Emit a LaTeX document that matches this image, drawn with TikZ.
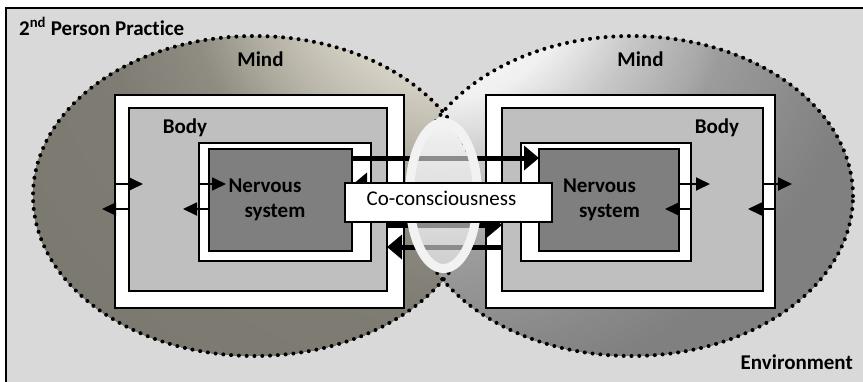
\documentclass[tikz,border=0pt]{standalone}
\usepackage{fontspec}
\setmainfont{Carlito}[Ligatures=NoCommon]
\usetikzlibrary{arrows.meta,calc}
\definecolor{envgray}{HTML}{D9D9D9}
\definecolor{bodygray}{HTML}{BFBFBF}
\definecolor{nervgray}{HTML}{7F7F7F}
\definecolor{ovalring}{HTML}{F2F2F2}
\definecolor{lmA}{HTML}{E8E5D8}
\definecolor{lmB}{HTML}{E0DDD0}
\definecolor{lmC}{HTML}{BCB9AC}
\definecolor{lmD}{HTML}{8F8C82}
\definecolor{lmE}{HTML}{7E7C73}
\definecolor{lmF}{HTML}{7A786F}
\definecolor{rmA}{HTML}{FFFFFF}
\definecolor{rmB}{HTML}{F8F8F8}
\definecolor{rmC}{HTML}{F0F0F0}
\definecolor{rmD}{HTML}{C8C8C8}
\definecolor{rmE}{HTML}{A8A8A8}
\definecolor{rmF}{HTML}{9C9C9C}
\definecolor{rmG}{HTML}{8C8C8C}
\definecolor{rmH}{HTML}{808080}
\definecolor{rmI}{HTML}{7F7F7F}
\begin{document}
\begin{tikzpicture}[x=1pt,y=-1pt,
  boxbase/.style={draw=black,line width=1.5pt,inner sep=0pt,outer sep=0pt,anchor=north west},
  wbox/.style={boxbase,fill=white},
  bodybox/.style={boxbase,fill=bodygray},
  nervbox/.style={boxbase,fill=nervgray},
  dotline/.style={draw=black,line width=4pt,line cap=round,dash pattern=on 0pt off 7.8pt},
  lbl/.style={font=\bfseries\fontsize{21}{25}\selectfont,inner sep=0pt,anchor=base},
  tarrow/.style={draw=black,line width=1.8pt,-{Triangle[length=14pt,width=13pt]}},
  karrow/.style={draw=black,line width=5pt,-{Triangle[length=15pt,width=24pt]}}]
\useasboundingbox (0,0) rectangle (863,381);
\clip (0,0) rectangle (863,381);
\fill[white] (0,0) rectangle (863,381);
% environment frame
\draw[line width=1.5pt,fill=envgray] (6,8) rectangle (900,420);
% left mind ellipse: radial gradient from above its top right
\begin{scope}
  \clip (254.5,196) ellipse [x radius=221.5pt,y radius=160pt];
  \fill[lmF] (254.5,196) ellipse [x radius=230pt,y radius=170pt];
  \foreach \ra/\ca/\rb/\cb in {350/lmE/540/lmF, 264/lmD/350/lmE, 183/lmC/264/lmD, 101/lmB/183/lmC, 0/lmA/101/lmB} {
    \pgfmathtruncatemacro\N{(\rb-\ra)/3}
    \foreach \i in {0,...,\N} {
      \pgfmathsetmacro\r{\rb-(\rb-\ra)*\i/(\N+1)}
      \pgfmathtruncatemacro\p{100*\i/(\N+1)}
      \fill[\ca!\p!\cb] (446,-40) circle [radius=\r pt];
    }
  }
\end{scope}
% right mind ellipse
\begin{scope}
  \clip (631.5,196) ellipse [x radius=221.5pt,y radius=160pt];
  \fill[rmI] (631.5,196) ellipse [x radius=230pt,y radius=170pt];
  \foreach \ra/\ca/\rb/\cb in {436/rmH/540/rmI, 374/rmG/436/rmH, 297/rmF/374/rmG, 278/rmE/297/rmF, 208/rmD/278/rmE, 143/rmC/208/rmD, 100/rmB/143/rmC, 0/rmA/100/rmB} {
    \pgfmathtruncatemacro\N{(\rb-\ra)/3}
    \foreach \i in {0,...,\N} {
      \pgfmathsetmacro\r{\rb-(\rb-\ra)*\i/(\N+1)}
      \pgfmathtruncatemacro\p{100*\i/(\N+1)}
      \fill[\ca!\p!\cb] (440,-40) circle [radius=\r pt];
    }
  }
\end{scope}
\path[dotline] (254.5,196) ellipse [x radius=221.5pt,y radius=160pt];
\path[dotline] (631.5,196) ellipse [x radius=221.5pt,y radius=160pt];
% left person boxes
\node[wbox,minimum width=289pt,minimum height=213pt] (L1) at (115,95) {};
\node[bodybox,minimum width=258pt,minimum height=183pt] (L2) at (129,108) {};
\node[wbox,minimum width=172pt,minimum height=118pt] (L3) at (199,143) {};
\node[nervbox,minimum width=143pt,minimum height=102pt] (L4) at (209,149) {};
% right person boxes
\node[wbox,minimum width=289pt,minimum height=213pt] (R1) at (486,95) {};
\node[bodybox,minimum width=261pt,minimum height=183pt] (R2) at (502,108) {};
\node[wbox,minimum width=170pt,minimum height=118pt] (R3) at (521,143) {};
\node[nervbox,minimum width=140pt,minimum height=102pt] (R4) at (539,149) {};
% thin interface arrows, left person
\draw[tarrow] (L1.west |- 0,184) -- ($(L2.west |- 0,184)+(14,0)$);
\draw[tarrow] (L2.west |- 0,209) -- ($(L1.west |- 0,209)+(-13,0)$);
\draw[tarrow] (L3.west |- 0,184) -- ($(L4.west |- 0,184)+(17,0)$);
\draw[tarrow] (L4.west |- 0,209) -- ($(L3.west |- 0,209)+(-16,0)$);
% thin interface arrows, right person
\draw[tarrow] (R4.east |- 0,184) -- ($(R3.east |- 0,184)+(19,0)$);
\draw[tarrow] (R3.east |- 0,209) -- ($(R4.east |- 0,209)+(-14,0)$);
\draw[tarrow] (R2.east |- 0,184) -- ($(R1.east |- 0,184)+(17,0)$);
\draw[tarrow] (R1.east |- 0,209) -- ($(R2.east |- 0,209)+(-15,0)$);
% thick co-consciousness arrows
\draw[karrow] (L4.east |- 0,158) -- (R4.west |- 0,158);
\draw[karrow] (R4.west |- 0,185) -- (L4.east |- 0,185);
\draw[karrow] (L2.east |- 0,225) -- (R2.west |- 0,225);
\draw[karrow] (R2.west |- 0,247) -- (L2.east |- 0,247);
% co-consciousness oval
\draw[draw=ovalring,line width=9pt,fill=white,fill opacity=0.55] (443.5,195.5) ellipse [x radius=34pt,y radius=73pt];
% co-consciousness box
\node[wbox,minimum width=207pt,minimum height=39pt] (cc) at (345,183) {};
\node[inner sep=0pt,anchor=base,font=\fontsize{21}{25}\selectfont] (cct) at (441.5,205) {Co-consciousness};
% labels
\node[lbl,anchor=base west] (pp) at (19,35) {2\textsuperscript{nd} Person Practice};
\node[lbl] (mindL) at (260.5,66) {Mind};
\node[lbl] (mindR) at (640.5,66) {Mind};
\node[lbl] (bodyL) at (185,133) {Body};
\node[lbl] (bodyR) at (717,133) {Body};
\node[lbl] (nsL1) at (265,192) {Nervous};
\node[lbl] (nsL2) at (275,217) {system};
\node[lbl] (nsR1) at (599.5,192) {Nervous};
\node[lbl] (nsR2) at (609.5,217) {system};
\node[lbl,anchor=base east] (env) at (853,369) {Environment};
\end{tikzpicture}
\end{document}
